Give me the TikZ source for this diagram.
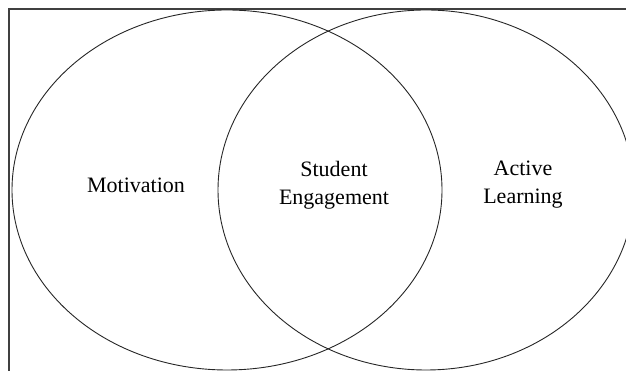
\documentclass[tikz,border=0pt]{standalone}
\usepackage{fontspec}
\setmainfont{Liberation Serif}
\usetikzlibrary{shapes.geometric}
\begin{document}
\begin{tikzpicture}[x=1pt,y=1pt,
  circ/.style={ellipse, draw=black!85, line width=0.9pt, inner sep=0pt},
  lbl/.style={align=center, font=\fontsize{22}{28}\selectfont, text=black}]
\useasboundingbox (0,0) rectangle (626,371);
\coordinate (fb) at (9,0);
\coordinate (fc) at (9,362);
\coordinate (fr) at (626,362);
\draw[black!75, line width=1.4pt] (fb) -- (fc) -- (fr);
\node[circ, minimum width=430pt, minimum height=360pt] (left) at (227,181) {};
\node[circ, minimum width=416pt, minimum height=360pt] (right) at (426,181) {};
\node[lbl] (mot) at (136,186) {Motivation};
\node[lbl] (se) at (334,186) {Student\\Engagement};
\node[lbl] (al) at (523,186) {Active\\Learning};
\end{tikzpicture}
\end{document}
